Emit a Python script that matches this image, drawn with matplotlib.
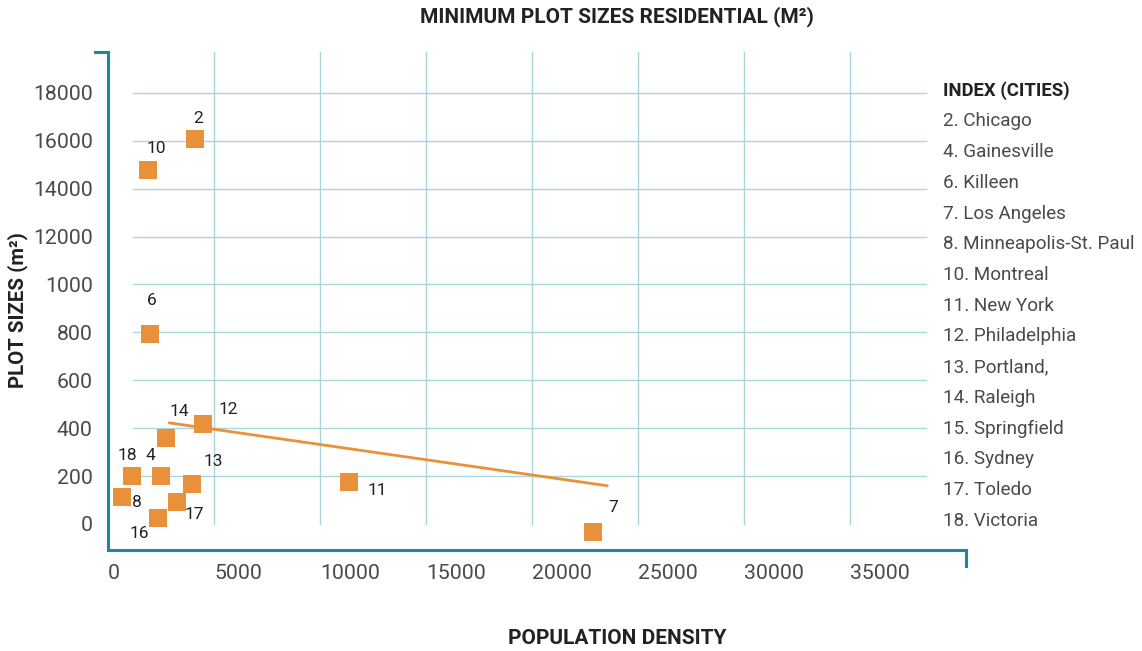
import numpy as np
import matplotlib
matplotlib.use("Agg")
import matplotlib.pyplot as plt
from matplotlib.lines import Line2D

# ---------------- data ----------------
point_ids = ["2", "10", "6", "12", "14", "18", "4", "8", "13", "17", "16", "11", "7"]
population_density = [4120, 1890, 1980, 4500, 2720, 1120, 2490, 650, 3980, 3240, 2370, 11380, 22890]
plot_size = [16060, 14780, 793, 416, 360, 202, 202, 114, 166, 93, 24, 177, -35]

trend_x = [2840, 23600]
trend_y = [423, 159]

y_tick_values = [0, 200, 400, 600, 800, 1000, 12000, 14000, 16000, 18000]
y_tick_labels = ["0", "200", "400", "600", "800", "1000", "12000", "14000", "16000", "18000"]
x_tick_values = [0, 5000, 10000, 15000, 20000, 25000, 30000, 35000]
x_tick_labels = ["0", "5000", "10000", "15000", "20000", "25000", "30000", "35000"]

index_title = "INDEX (CITIES)"
index_cities = ["2. Chicago", "4. Gainesville", "6. Killeen", "7. Los Angeles",
                "8. Minneapolis-St. Paul", "10. Montreal", "11. New York",
                "12. Philadelphia", "13. Portland,", "14. Raleigh", "15. Springfield",
                "16. Sydney", "17. Toledo", "18. Victoria"]

# label offsets (pixels) relative to each point
label_dx = [3, 8, 2, 25, 14, -4, -10, 15, 21, 18, -19, 28, 20]
label_dy = [21, 22, 34, 15, 26, 20, 20, -6, 23, -13, -15, -9, 25]

# ---------------- style ----------------
ORANGE = "#E8913A"
GRID = "#A9D6DD"
SPINE = "#1F8797"
TXT = "#4a4a4a"
plt.rcParams['font.family'] = ['Roboto', 'DejaVu Sans']

W, H = 1142, 651
fig = plt.figure(figsize=(W / 100, H / 100), dpi=100)

ax_l, ax_r, ax_t, ax_b = 108, 966, 52, 550
ax = fig.add_axes([ax_l / W, 1 - ax_b / H, (ax_r - ax_l) / W, (ax_b - ax_t) / H])

# piecewise-linear y scale (evenly spaced uneven tick values)
bp_val = np.array([-1000] + y_tick_values + [30000], dtype=float)
bp_pos = np.array([-5] + list(range(len(y_tick_values))) + [15], dtype=float)


def fwd(v):
    return np.interp(v, bp_val, bp_pos)


def inv(p):
    return np.interp(p, bp_pos, bp_val)


ax.set_yscale('function', functions=(fwd, inv))
ax.set_ylim(inv(-0.543), inv(9.854))
ax.set_xlim(0, 40470)

# gridlines
x_grid_left = 1180
x_grid_right = 38590
for yv in y_tick_values[1:]:
    ax.plot([x_grid_left, x_grid_right], [yv, yv], color=GRID, lw=1.0, zorder=1)
for xv in x_tick_values[1:]:
    ax.plot([xv, xv], [0, inv(9.854)], color=GRID, lw=1.0, zorder=1)

# trend line
ax.plot(trend_x, trend_y, color=ORANGE, lw=2.0, solid_capstyle='butt', zorder=3)

# points
ax.scatter(population_density, plot_size, marker='s', s=150, color=ORANGE,
           linewidths=0, zorder=4)

for pid, xv, yv, dx, dy in zip(point_ids, population_density, plot_size, label_dx, label_dy):
    ax.annotate(pid, (xv, yv), xytext=(dx, dy), textcoords='offset pixels',
                ha='center', va='center', fontsize=12.5, color='#222222', zorder=5)

# spines
for s in ['top', 'right']:
    ax.spines[s].set_visible(False)
for s in ['left', 'bottom']:
    ax.spines[s].set_color(SPINE)
    ax.spines[s].set_linewidth(2.2)

# decorative end ticks
ax.add_line(Line2D([-13 / (ax_r - ax_l), 0], [1, 1], transform=ax.transAxes,
                   color=SPINE, lw=2.2, clip_on=False, solid_capstyle='projecting'))
ax.add_line(Line2D([1, 1], [0, -16 / (ax_b - ax_t)], transform=ax.transAxes,
                   color=SPINE, lw=2.2, clip_on=False, solid_capstyle='projecting'))

# ticks
ax.set_yticks(y_tick_values)
ax.set_yticklabels(y_tick_labels)
ax.set_xticks(x_tick_values)
ax.set_xticklabels(x_tick_labels)
ax.tick_params(axis='both', length=0, labelsize=15.3, labelcolor=TXT)
ax.tick_params(axis='y', pad=11)
ax.tick_params(axis='x', pad=10)
for lbl in ax.get_xticklabels():
    lbl.set_horizontalalignment('left')
ax.minorticks_off()

# titles
fig.text(617 / W, 1 - 17 / H, "MINIMUM PLOT SIZES RESIDENTIAL (M²)", ha='center', va='center',
         fontsize=15, fontweight='bold', color='#222222')
fig.text(18 / W, 1 - 310 / H, "PLOT SIZES (m²)", ha='center', va='center', rotation=90,
         fontsize=14.7, fontweight='bold', color='#222222')
fig.text(617 / W, 1 - 638 / H, "POPULATION DENSITY", ha='center', va='center',
         fontsize=15, fontweight='bold', color='#222222')

# index
fig.text(943 / W, 1 - 91 / H, index_title, ha='left', va='center', fontsize=13.3,
         fontweight='bold', color='#222222')
for i, c in enumerate(index_cities):
    fig.text(943 / W, 1 - (121.5 + i * 30.7) / H, c, ha='left', va='center',
             fontsize=13.6, color=TXT)

fig.savefig("out.png", dpi=100)
